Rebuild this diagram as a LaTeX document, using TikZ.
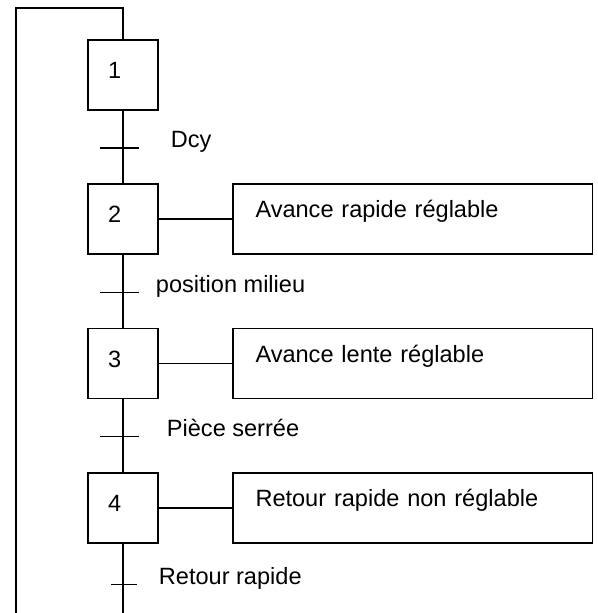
\documentclass[tikz,border=0pt]{standalone}
\usepackage{fontspec}
\setmainfont{Liberation Sans}

\begin{document}
\begin{tikzpicture}[
    line width=1.1pt,
    font=\fontsize{13.4}{16}\selectfont,
    etape/.style={draw, minimum size=1.4cm, inner xsep=0.4cm, text width=0.6cm, align=left, text height=0.4cm, text depth=0.24cm},
    action/.style={draw, minimum width=7.19cm, minimum height=1.4cm, inner xsep=0.45cm, text width=6.29cm, align=left, text height=0.4cm, text depth=0.44cm},
    recept/.style={anchor=base west, inner sep=0pt},
]
\useasboundingbox (0,0) rectangle (11.96,12.26);
\node[etape] (e1) at (2.46,10.76) {1};
\node[etape] (e2) at (2.46,7.88) {2};
\node[etape] (e3) at (2.46,4.99) {3};
\node[etape] (e4) at (2.46,2.10) {4};
\node[action] (a2) at (8.255,7.88) {Avance rapide réglable};
\node[action] (a3) at (8.255,4.99) {Avance lente réglable};
\node[action] (a4) at (8.255,2.10) {Retour rapide non réglable};
\coordinate (t1) at (2.46,9.30);
\coordinate (t2) at (2.46,6.41);
\coordinate (t3) at (2.46,3.53);
\coordinate (t4) at (2.46,0.57);
\node[recept] (r1) at (3.40,9.30) {Dcy};
\node[recept] (r2) at (3.10,6.41) {position milieu};
\node[recept] (r3) at (3.32,3.53) {Pièce serrée};
\node[recept] (r4) at (3.16,0.57) {Retour rapide};
\coordinate (haut) at (0.32,12.1);
\coordinate (bas) at (0.32,0);
\foreach \a/\b in {e1/e2,e2/e3,e3/e4}
    \draw (\a) -- (\b);
\foreach \n in {2,3,4}
    \draw (e\n) -- (a\n);
\draw (e4) -- (e4.south |- bas);
\draw (e1) -- (e1.north |- haut) -| (bas);
\foreach \t in {t1,t2,t3}
    \draw ([xshift=-0.46cm]\t) -- ([xshift=0.32cm]\t);
\draw ([xshift=-0.24cm]t4) -- ([xshift=0.28cm]t4);
\end{tikzpicture}
\end{document}
